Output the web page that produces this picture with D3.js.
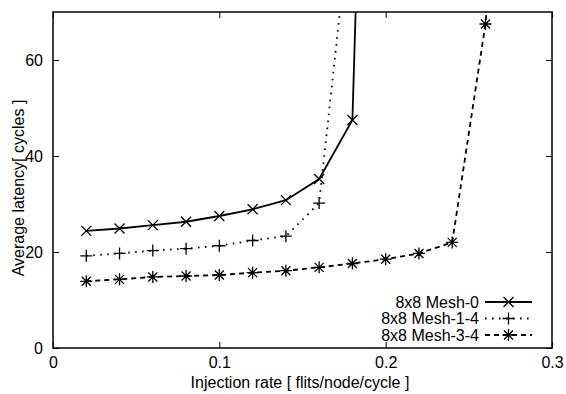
<!DOCTYPE html>
<html>
<head>
<meta charset="utf-8">
<script src="https://cdn.jsdelivr.net/npm/d3@7"></script>
<style>
  body { margin: 0; background: #fff; }
  svg { display: block; font-family: "Liberation Sans", Arial, sans-serif; }
</style>
</head>
<body>
<div id="chart"></div>
<script>
// injection rates (x) for each series
const rates0 = [0.02, 0.04, 0.06, 0.08, 0.10, 0.12, 0.14, 0.16, 0.18, 0.20];
const latency0 = [24.4, 24.9, 25.6, 26.3, 27.5, 28.9, 30.8, 35.2, 47.5, 280];

const rates14 = [0.02, 0.04, 0.06, 0.08, 0.10, 0.12, 0.14, 0.16, 0.18];
const latency14 = [19.2, 19.7, 20.3, 20.7, 21.3, 22.4, 23.3, 30.2, 94];

const rates34 = [0.02, 0.04, 0.06, 0.08, 0.10, 0.12, 0.14, 0.16, 0.18, 0.20, 0.22, 0.24, 0.26, 0.28];
const latency34 = [13.9, 14.3, 14.8, 15.0, 15.2, 15.7, 16.1, 16.8, 17.6, 18.5, 19.7, 22.0, 67.5, 150];

const seriesNames = ['8x8 Mesh-0', '8x8 Mesh-1-4', '8x8 Mesh-3-4'];
const xTicks = [0, 0.1, 0.2, 0.3];
const yTicks = [0, 20, 40, 60];

const W = 566, H = 394;
const margin = { top: 12, right: 14, bottom: 46, left: 53 };
const width = W - margin.left - margin.right;
const height = H - margin.top - margin.bottom;
const fontSize = '16px';

const svg = d3.select('#chart').append('svg')
    .attr('width', W)
    .attr('height', H);

const g = svg.append('g')
    .attr('transform', `translate(${margin.left},${margin.top})`);

const x = d3.scaleLinear().domain([0, 0.3]).range([0, width]);
const y = d3.scaleLinear().domain([0, 70]).range([height, 0]);

svg.append('defs').append('clipPath')
    .attr('id', 'plot-clip')
    .append('rect')
    .attr('width', width)
    .attr('height', height);

// ticks inward on all four sides (gnuplot style)
const tickLen = 6;
const axisStyle = (sel) => {
    sel.select('.domain').remove();
    sel.selectAll('.tick line').attr('stroke', '#000').attr('stroke-width', 1);
};

g.append('g')
    .call(d3.axisLeft(y).tickValues(yTicks).tickSize(-tickLen).tickPadding(10).tickFormat(d3.format('d')))
    .call(axisStyle)
    .selectAll('text').style('font-size', fontSize).attr('fill', '#000');

g.append('g')
    .attr('transform', `translate(${width},0)`)
    .call(d3.axisRight(y).tickValues(yTicks).tickSize(-tickLen).tickFormat(''))
    .call(axisStyle);

g.append('g')
    .attr('transform', `translate(0,${height})`)
    .call(d3.axisBottom(x).tickValues(xTicks).tickSize(-tickLen).tickPadding(9).tickFormat(d3.format('')))
    .call(axisStyle)
    .selectAll('text').style('font-size', fontSize).attr('fill', '#000');

g.append('g')
    .call(d3.axisTop(x).tickValues(xTicks).tickSize(-tickLen).tickFormat(''))
    .call(axisStyle);

g.append('rect')
    .attr('width', width)
    .attr('height', height)
    .attr('fill', 'none')
    .attr('stroke', '#000')
    .attr('stroke-width', 1.5);

// axis labels
svg.append('text')
    .attr('x', 300)
    .attr('y', 388)
    .attr('text-anchor', 'middle')
    .style('font-size', fontSize)
    .text('Injection rate [ flits/node/cycle ]');

svg.append('text')
    .attr('transform', 'translate(24,188) rotate(-90)')
    .attr('text-anchor', 'middle')
    .style('font-size', fontSize)
    .text('Average latency[ cycles ]');

// marker shapes
function drawMarker(sel, kind, cx, cy) {
    const s = 5;
    const paths = {
        cross: `M${cx - s},${cy - s}L${cx + s},${cy + s}M${cx - s},${cy + s}L${cx + s},${cy - s}`,
        plus: `M${cx - 6},${cy}L${cx + 6},${cy}M${cx},${cy - 6}L${cx},${cy + 6}`,
        star: `M${cx - 6},${cy}L${cx + 6},${cy}M${cx},${cy - 6}L${cx},${cy + 6}` +
              `M${cx - 4.5},${cy - 4.5}L${cx + 4.5},${cy + 4.5}M${cx - 4.5},${cy + 4.5}L${cx + 4.5},${cy - 4.5}`
    };
    sel.append('path')
        .attr('d', paths[kind])
        .attr('stroke', '#000')
        .attr('stroke-width', 1.3)
        .attr('fill', 'none');
}

const series = [
    { name: seriesNames[0], xs: rates0, ys: latency0, marker: 'cross', dash: null, lw: 1.8 },
    { name: seriesNames[1], xs: rates14, ys: latency14, marker: 'plus', dash: '1.6,5.4', lw: 1.8 },
    { name: seriesNames[2], xs: rates34, ys: latency34, marker: 'star', dash: '5,4', lw: 1.8 }
];

const line = d3.line().x((d) => x(d[0])).y((d) => y(d[1]));
const plot = g.append('g').attr('clip-path', 'url(#plot-clip)');

series.forEach((s) => {
    const pts = s.xs.map((v, i) => [v, s.ys[i]]);
    plot.append('path')
        .datum(pts)
        .attr('d', line)
        .attr('fill', 'none')
        .attr('stroke', '#000')
        .attr('stroke-width', s.lw)
        .attr('stroke-dasharray', s.dash);
    pts.filter((p) => p[1] <= 70).forEach((p) => drawMarker(plot, s.marker, x(p[0]), y(p[1])));
});

// legend
const legendRight = 479 - margin.left;
const sampleX0 = 485 - margin.left, sampleX1 = 532 - margin.left;
series.forEach((s, i) => {
    const ly = 302 - margin.top + i * 16.5;
    g.append('text')
        .attr('x', legendRight)
        .attr('y', ly + 5.5)
        .attr('text-anchor', 'end')
        .style('font-size', fontSize)
        .text(s.name);
    g.append('line')
        .attr('x1', sampleX0).attr('x2', sampleX1)
        .attr('y1', ly).attr('y2', ly)
        .attr('stroke', '#000')
        .attr('stroke-width', s.lw)
        .attr('stroke-dasharray', s.dash);
    drawMarker(g, s.marker, (sampleX0 + sampleX1) / 2, ly);
});
</script>
</body>
</html>
